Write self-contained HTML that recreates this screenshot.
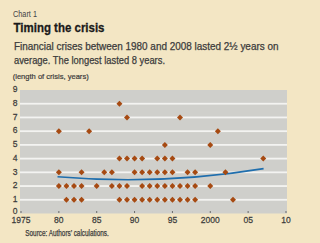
<!DOCTYPE html>
<html><head><meta charset="utf-8"><style>
html,body{margin:0;padding:0;width:300px;height:243px;overflow:hidden;background:#F3E6C4;}
svg{display:block;}
text{font-family:"Liberation Sans",sans-serif;fill:#3C3C3C;}
.ax{font-size:9.8px;}
text{stroke:#3C3C3C;stroke-width:0.25px;}
</style></head><body>
<svg width="300" height="243" viewBox="0 0 300 243">
<rect width="300" height="243" fill="#F3E6C4"/>
<text x="13" y="16.8" font-size="9.5" style="fill:#484848;stroke:#484848;stroke-width:0.05px" textLength="24" lengthAdjust="spacingAndGlyphs">Chart 1</text>
<text x="13.5" y="31.8" font-size="13" font-weight="bold" style="fill:#1a1a1a;stroke:#1a1a1a;stroke-width:0.3px" textLength="91" lengthAdjust="spacingAndGlyphs">Timing the crisis</text>
<text x="14" y="49.6" font-size="10" textLength="264.5" lengthAdjust="spacingAndGlyphs">Financial crises between 1980 and 2008 lasted 2½ years on</text>
<text x="14" y="63.6" font-size="10" textLength="151" lengthAdjust="spacingAndGlyphs">average. The longest lasted 8 years.</text>
<text x="12.7" y="78.5" font-size="8.1" style="fill:#3a3a3a;stroke:#3a3a3a;stroke-width:0.2px" textLength="76" lengthAdjust="spacingAndGlyphs">(length of crisis, years)</text>
<rect x="20" y="90" width="267" height="123.5" fill="#CFCFCB"/><rect x="20" y="198.88" width="267" height="1.8" fill="#F3F3F1"/><rect x="20" y="185.16" width="267" height="1.8" fill="#F3F3F1"/><rect x="20" y="171.43" width="267" height="1.8" fill="#F3F3F1"/><rect x="20" y="157.71" width="267" height="1.8" fill="#F3F3F1"/><rect x="20" y="143.99" width="267" height="1.8" fill="#F3F3F1"/><rect x="20" y="130.27" width="267" height="1.8" fill="#F3F3F1"/><rect x="20" y="116.54" width="267" height="1.8" fill="#F3F3F1"/><rect x="20" y="102.82" width="267" height="1.8" fill="#F3F3F1"/><rect x="20.50" y="211.0" width="1" height="2" fill="#6a6a6a"/><rect x="58.35" y="211.0" width="1" height="2" fill="#6a6a6a"/><rect x="96.21" y="211.0" width="1" height="2" fill="#6a6a6a"/><rect x="134.06" y="211.0" width="1" height="2" fill="#6a6a6a"/><rect x="171.92" y="211.0" width="1" height="2" fill="#6a6a6a"/><rect x="209.78" y="211.0" width="1" height="2" fill="#6a6a6a"/><rect x="247.63" y="211.0" width="1" height="2" fill="#6a6a6a"/><rect x="285.49" y="211.0" width="1" height="2" fill="#6a6a6a"/><path d="M57.5 176.7 Q160.5 185.5 263.6 168.6" fill="none" stroke="#1F6EAD" stroke-width="1.6"/><path d="M119.42 100.72L122.42 103.72L119.42 106.72L116.42 103.72Z" fill="#A64A12"/><path d="M126.99 114.44L129.99 117.44L126.99 120.44L123.99 117.44Z" fill="#A64A12"/><path d="M179.99 114.44L182.99 117.44L179.99 120.44L176.99 117.44Z" fill="#A64A12"/><path d="M58.85 128.17L61.85 131.17L58.85 134.17L55.85 131.17Z" fill="#A64A12"/><path d="M89.14 128.17L92.14 131.17L89.14 134.17L86.14 131.17Z" fill="#A64A12"/><path d="M217.85 128.17L220.85 131.17L217.85 134.17L214.85 131.17Z" fill="#A64A12"/><path d="M164.85 141.89L167.85 144.89L164.85 147.89L161.85 144.89Z" fill="#A64A12"/><path d="M210.28 141.89L213.28 144.89L210.28 147.89L207.28 144.89Z" fill="#A64A12"/><path d="M119.42 155.61L122.42 158.61L119.42 161.61L116.42 158.61Z" fill="#A64A12"/><path d="M126.99 155.61L129.99 158.61L126.99 161.61L123.99 158.61Z" fill="#A64A12"/><path d="M134.56 155.61L137.56 158.61L134.56 161.61L131.56 158.61Z" fill="#A64A12"/><path d="M142.14 155.61L145.14 158.61L142.14 161.61L139.14 158.61Z" fill="#A64A12"/><path d="M157.28 155.61L160.28 158.61L157.28 161.61L154.28 158.61Z" fill="#A64A12"/><path d="M164.85 155.61L167.85 158.61L164.85 161.61L161.85 158.61Z" fill="#A64A12"/><path d="M172.42 155.61L175.42 158.61L172.42 161.61L169.42 158.61Z" fill="#A64A12"/><path d="M263.27 155.61L266.27 158.61L263.27 161.61L260.27 158.61Z" fill="#A64A12"/><path d="M58.85 169.33L61.85 172.33L58.85 175.33L55.85 172.33Z" fill="#A64A12"/><path d="M81.57 169.33L84.57 172.33L81.57 175.33L78.57 172.33Z" fill="#A64A12"/><path d="M104.28 169.33L107.28 172.33L104.28 175.33L101.28 172.33Z" fill="#A64A12"/><path d="M111.85 169.33L114.85 172.33L111.85 175.33L108.85 172.33Z" fill="#A64A12"/><path d="M134.56 169.33L137.56 172.33L134.56 175.33L131.56 172.33Z" fill="#A64A12"/><path d="M142.14 169.33L145.14 172.33L142.14 175.33L139.14 172.33Z" fill="#A64A12"/><path d="M149.71 169.33L152.71 172.33L149.71 175.33L146.71 172.33Z" fill="#A64A12"/><path d="M157.28 169.33L160.28 172.33L157.28 175.33L154.28 172.33Z" fill="#A64A12"/><path d="M164.85 169.33L167.85 172.33L164.85 175.33L161.85 172.33Z" fill="#A64A12"/><path d="M172.42 169.33L175.42 172.33L172.42 175.33L169.42 172.33Z" fill="#A64A12"/><path d="M187.56 169.33L190.56 172.33L187.56 175.33L184.56 172.33Z" fill="#A64A12"/><path d="M195.13 169.33L198.13 172.33L195.13 175.33L192.13 172.33Z" fill="#A64A12"/><path d="M225.42 169.33L228.42 172.33L225.42 175.33L222.42 172.33Z" fill="#A64A12"/><path d="M58.85 183.06L61.85 186.06L58.85 189.06L55.85 186.06Z" fill="#A64A12"/><path d="M66.43 183.06L69.43 186.06L66.43 189.06L63.43 186.06Z" fill="#A64A12"/><path d="M74.00 183.06L77.00 186.06L74.00 189.06L71.00 186.06Z" fill="#A64A12"/><path d="M81.57 183.06L84.57 186.06L81.57 189.06L78.57 186.06Z" fill="#A64A12"/><path d="M96.71 183.06L99.71 186.06L96.71 189.06L93.71 186.06Z" fill="#A64A12"/><path d="M111.85 183.06L114.85 186.06L111.85 189.06L108.85 186.06Z" fill="#A64A12"/><path d="M119.42 183.06L122.42 186.06L119.42 189.06L116.42 186.06Z" fill="#A64A12"/><path d="M126.99 183.06L129.99 186.06L126.99 189.06L123.99 186.06Z" fill="#A64A12"/><path d="M142.14 183.06L145.14 186.06L142.14 189.06L139.14 186.06Z" fill="#A64A12"/><path d="M149.71 183.06L152.71 186.06L149.71 189.06L146.71 186.06Z" fill="#A64A12"/><path d="M157.28 183.06L160.28 186.06L157.28 189.06L154.28 186.06Z" fill="#A64A12"/><path d="M164.85 183.06L167.85 186.06L164.85 189.06L161.85 186.06Z" fill="#A64A12"/><path d="M172.42 183.06L175.42 186.06L172.42 189.06L169.42 186.06Z" fill="#A64A12"/><path d="M179.99 183.06L182.99 186.06L179.99 189.06L176.99 186.06Z" fill="#A64A12"/><path d="M187.56 183.06L190.56 186.06L187.56 189.06L184.56 186.06Z" fill="#A64A12"/><path d="M195.13 183.06L198.13 186.06L195.13 189.06L192.13 186.06Z" fill="#A64A12"/><path d="M210.28 183.06L213.28 186.06L210.28 189.06L207.28 186.06Z" fill="#A64A12"/><path d="M66.43 196.78L69.43 199.78L66.43 202.78L63.43 199.78Z" fill="#A64A12"/><path d="M74.00 196.78L77.00 199.78L74.00 202.78L71.00 199.78Z" fill="#A64A12"/><path d="M81.57 196.78L84.57 199.78L81.57 202.78L78.57 199.78Z" fill="#A64A12"/><path d="M119.42 196.78L122.42 199.78L119.42 202.78L116.42 199.78Z" fill="#A64A12"/><path d="M126.99 196.78L129.99 199.78L126.99 202.78L123.99 199.78Z" fill="#A64A12"/><path d="M134.56 196.78L137.56 199.78L134.56 202.78L131.56 199.78Z" fill="#A64A12"/><path d="M142.14 196.78L145.14 199.78L142.14 202.78L139.14 199.78Z" fill="#A64A12"/><path d="M149.71 196.78L152.71 199.78L149.71 202.78L146.71 199.78Z" fill="#A64A12"/><path d="M157.28 196.78L160.28 199.78L157.28 202.78L154.28 199.78Z" fill="#A64A12"/><path d="M164.85 196.78L167.85 199.78L164.85 202.78L161.85 199.78Z" fill="#A64A12"/><path d="M172.42 196.78L175.42 199.78L172.42 202.78L169.42 199.78Z" fill="#A64A12"/><path d="M179.99 196.78L182.99 199.78L179.99 202.78L176.99 199.78Z" fill="#A64A12"/><path d="M187.56 196.78L190.56 199.78L187.56 202.78L184.56 199.78Z" fill="#A64A12"/><path d="M195.13 196.78L198.13 199.78L195.13 202.78L192.13 199.78Z" fill="#A64A12"/><path d="M232.99 196.78L235.99 199.78L232.99 202.78L229.99 199.78Z" fill="#A64A12"/><text transform="translate(17.6 213.70) scale(0.87 1)" text-anchor="end" class="ax">0</text><text transform="translate(17.6 201.98) scale(0.87 1)" text-anchor="end" class="ax">1</text><text transform="translate(17.6 188.26) scale(0.87 1)" text-anchor="end" class="ax">2</text><text transform="translate(17.6 174.53) scale(0.87 1)" text-anchor="end" class="ax">3</text><text transform="translate(17.6 160.81) scale(0.87 1)" text-anchor="end" class="ax">4</text><text transform="translate(17.6 147.09) scale(0.87 1)" text-anchor="end" class="ax">5</text><text transform="translate(17.6 133.37) scale(0.87 1)" text-anchor="end" class="ax">6</text><text transform="translate(17.6 119.64) scale(0.87 1)" text-anchor="end" class="ax">7</text><text transform="translate(17.6 105.92) scale(0.87 1)" text-anchor="end" class="ax">8</text><text transform="translate(17.6 92.20) scale(0.87 1)" text-anchor="end" class="ax">9</text><text transform="translate(21.00 223.4) scale(0.87 1)" text-anchor="middle" class="ax">1975</text><text transform="translate(58.85 223.4) scale(0.87 1)" text-anchor="middle" class="ax">80</text><text transform="translate(96.71 223.4) scale(0.87 1)" text-anchor="middle" class="ax">85</text><text transform="translate(134.56 223.4) scale(0.87 1)" text-anchor="middle" class="ax">90</text><text transform="translate(172.42 223.4) scale(0.87 1)" text-anchor="middle" class="ax">95</text><text transform="translate(210.28 223.4) scale(0.87 1)" text-anchor="middle" class="ax">2000</text><text transform="translate(248.13 223.4) scale(0.87 1)" text-anchor="middle" class="ax">05</text><text transform="translate(285.99 223.4) scale(0.87 1)" text-anchor="middle" class="ax">10</text>
<text x="25.3" y="236.4" font-size="8.3" textLength="83.5" lengthAdjust="spacingAndGlyphs">Source: Authors’ calculations.</text>
</svg>
</body></html>
